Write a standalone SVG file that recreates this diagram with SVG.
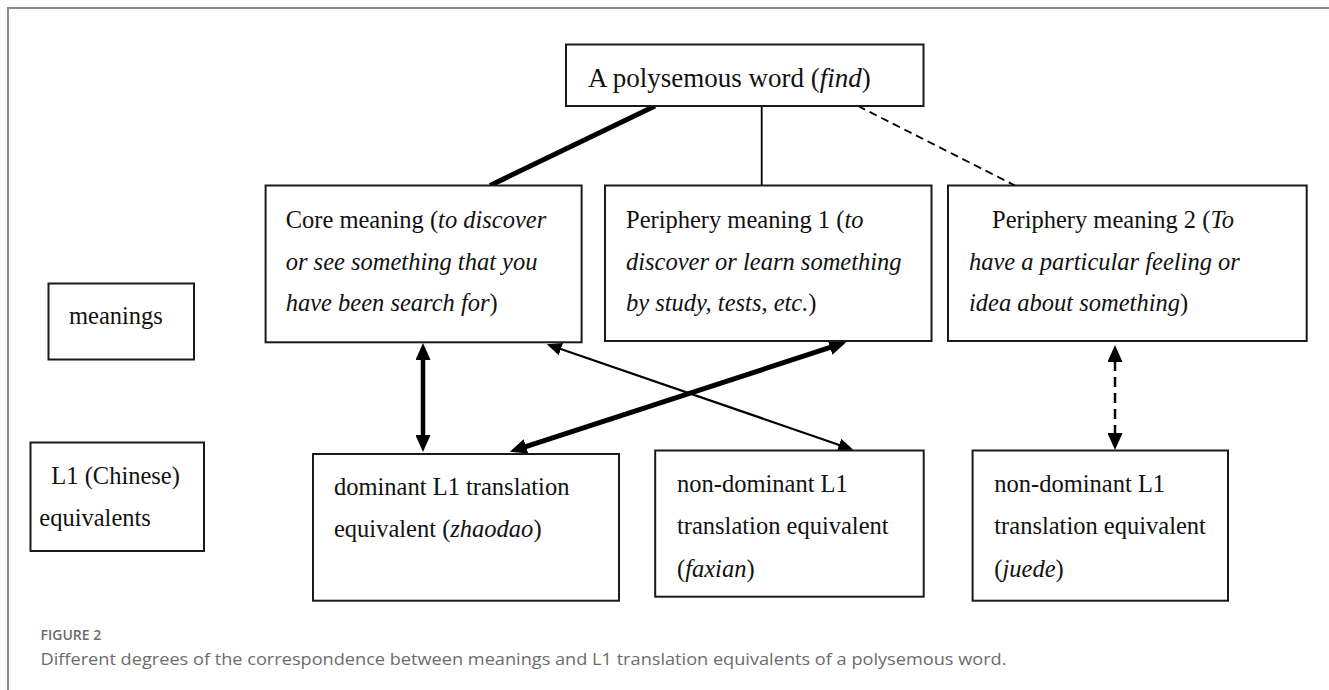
<svg xmlns="http://www.w3.org/2000/svg" width="1329" height="690" viewBox="0 0 1329 690">
<style>
.box{fill:#fff;stroke:#1a1a1a;stroke-width:2}
.t{font-family:"Liberation Serif","Times New Roman",serif;font-size:24.5px;fill:#111}
.i{font-style:italic}
.cap{font-family:"Open Sans","Noto Sans",sans-serif;fill:#6b6b6b}
.ln{fill:none;stroke:#000}
</style>
<defs>
<marker id="big" markerUnits="userSpaceOnUse" markerWidth="17" markerHeight="15" viewBox="0 0 17 15" refX="1" refY="7.5" orient="auto-start-reverse">
<path d="M0,0 L17,7.5 L0,15 z" fill="#000"/>
</marker>
<marker id="small" markerUnits="userSpaceOnUse" markerWidth="15" markerHeight="13" viewBox="0 0 15 13" refX="1" refY="6.5" orient="auto-start-reverse">
<path d="M0,0 L15,6.5 L0,13 z" fill="#000"/>
</marker>
</defs>
<rect width="1329" height="690" fill="#fff"/>
<path d="M8,700 V8 H1340" fill="none" stroke="#8c8c8c" stroke-width="2"/>

<g id="connectors">
<line class="ln" x1="655" y1="106" x2="490" y2="185.5" stroke-width="5"/>
<line class="ln" x1="761.7" y1="106" x2="761.7" y2="185.5" stroke-width="1.8"/>
<line class="ln" x1="858" y1="106" x2="1015" y2="185.5" stroke-width="1.8" stroke-dasharray="8,5"/>
<line class="ln" x1="423" y1="359" x2="423" y2="436" stroke-width="4.5" marker-start="url(#big)" marker-end="url(#big)"/>
<line class="ln" x1="560" y1="348.8" x2="840" y2="445.2" stroke-width="2.2" marker-start="url(#small)" marker-end="url(#small)"/>
<line class="ln" x1="831" y1="347.2" x2="525" y2="446.8" stroke-width="5" marker-start="url(#big)" marker-end="url(#big)"/>
<line class="ln" x1="1115" y1="361" x2="1115" y2="434" stroke-width="2.5" stroke-dasharray="10,6" marker-start="url(#big)" marker-end="url(#big)"/>
</g>

<g id="word">
<rect class="box" x="566" y="44.5" width="357.5" height="61.5"/>
<text class="t" x="588" y="87" style="font-size:27px">A polysemous word (<tspan class="i">find</tspan>)</text>
</g>

<g id="label-meanings">
<rect class="box" x="48.5" y="283.5" width="145.5" height="76"/>
<text class="t" x="69" y="324">meanings</text>
</g>

<g id="label-l1">
<rect class="box" x="30.5" y="442.5" width="173.5" height="108.5"/>
<text class="t" x="51.3" y="484">L1 (Chinese)</text>
<text class="t" x="39.3" y="526">equivalents</text>
</g>

<g id="core">
<rect class="box" x="265.6" y="185.5" width="316" height="156.8"/>
<text class="t" x="285.7" y="228">Core meaning (<tspan class="i">to discover</tspan></text>
<text class="t i" x="285.7" y="269.5">or see something that you</text>
<text class="t" x="285.7" y="311"><tspan class="i">have been search for</tspan>)</text>
</g>

<g id="periphery1">
<rect class="box" x="605" y="185.5" width="326.5" height="155.5"/>
<text class="t" x="626" y="228">Periphery meaning 1 (<tspan class="i">to</tspan></text>
<text class="t i" x="626" y="269.5">discover or learn something</text>
<text class="t" x="626" y="311"><tspan class="i">by study, tests, etc.</tspan>)</text>
</g>

<g id="periphery2">
<rect class="box" x="948" y="185.5" width="358.7" height="155.5"/>
<text class="t" x="992" y="228">Periphery meaning 2 (<tspan class="i">To</tspan></text>
<text class="t i" x="969" y="269.5">have a particular feeling or</text>
<text class="t" x="969" y="311"><tspan class="i">idea about something</tspan>)</text>
</g>

<g id="dominant">
<rect class="box" x="313" y="454" width="306" height="146.7"/>
<text class="t" x="334" y="495">dominant L1 translation</text>
<text class="t" x="334" y="537.3">equivalent (<tspan class="i">zhaodao</tspan>)</text>
</g>

<g id="nondominant1">
<rect class="box" x="655.2" y="450.5" width="268.5" height="146.2"/>
<text class="t" x="677" y="491.7">non-dominant L1</text>
<text class="t" x="677" y="534">translation equivalent</text>
<text class="t" x="677" y="576.7">(<tspan class="i">faxian</tspan>)</text>
</g>

<g id="nondominant2">
<rect class="box" x="972.6" y="450.5" width="255.4" height="150.2"/>
<text class="t" x="994.3" y="491.7">non-dominant L1</text>
<text class="t" x="994.3" y="534">translation equivalent</text>
<text class="t" x="994.3" y="576.7">(<tspan class="i">juede</tspan>)</text>
</g>

<g id="caption">
<text class="cap" x="40.5" y="640" style="font-size:14px;font-weight:600">FIGURE 2</text>
<text class="cap" x="40.5" y="665" style="font-size:16px" textLength="966" lengthAdjust="spacingAndGlyphs">Different degrees of the correspondence between meanings and L1 translation equivalents of a polysemous word.</text>
</g>
</svg>
